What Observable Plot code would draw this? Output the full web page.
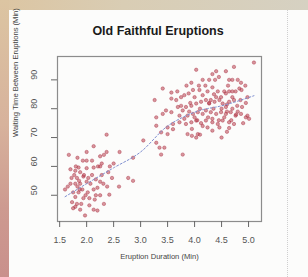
<!DOCTYPE html>
<html>
<head>
<meta charset="utf-8">
<script src="https://cdn.jsdelivr.net/npm/d3@7"></script>
<script src="https://cdn.jsdelivr.net/npm/@observablehq/plot@0.6"></script>
<style>
  html, body { margin: 0; padding: 0; }
  body { width: 308px; height: 277px; overflow: hidden; font-family: "Liberation Sans", Arial, sans-serif; }
  #wrap { position: relative; width: 308px; height: 277px; background: #fcfcfb; overflow: hidden; }
  #topband { position: absolute; left: 0; top: 0; width: 308px; height: 10px;
    background: linear-gradient(to right, #dcc5a2, #d9cdb4 40%, #d6d1c2); }
  #leftband { position: absolute; left: 0; top: 0; width: 9px; height: 277px;
    background: linear-gradient(to bottom, #dcc5a2, #d7b29c 45%, #cd9a90 75%, #c9908c); }
  #dots { position: absolute; left: 287px; top: 10px; width: 0; height: 267px; border-left: 1px dotted #cfcfcf; }
  #title { position: absolute; left: 0; top: 24px; width: 316px; text-align: center;
    font-weight: bold; font-size: 12.5px; color: #1a1a1a; z-index: 2; }
  #chart { position: absolute; left: 0; top: 0; z-index: 1; }
</style>
</head>
<body>
<div id="wrap">
  <div id="topband"></div>
  <div id="leftband"></div>
  <div id="dots"></div>
  <div id="chart"></div>
  <div id="title">Old Faithful Eruptions</div>
</div>
<script>
// Eruption duration (min)
const duration = [
  1.67,1.83,2.0,1.85,1.70,1.88,1.79,2.13,2.0,2.37,2.37,2.25,2.32,2.21,2.25,2.13,2.0,2.61,2.43,2.86,
  3.05,2.77,2.86,2.6,2.42,2.32,1.6,2.17,2.25,1.94,2.05,1.7,1.79,1.88,1.75,1.79,1.73,1.79,1.88,1.97,
  2.13,2.2,1.85,1.92,2.0,2.03,2.13,2.2,2.25,2.31,2.07,1.94,1.82,1.77,1.9,1.82,1.75,1.83,1.87,1.95,
  2.1,2.28,2.4,2.02,2.15,1.65,1.72,2.47,2.1,1.93,2.28,2.38,1.98,1.8,2.05,2.5,1.86,2.17,
  5.1,4.03,4.4,4.58,4.73,3.41,3.26,3.94,4.08,4.27,4.33,4.38,4.64,4.7,4.86,4.94,4.83,3.57,3.57,3.66,
  3.75,3.81,3.89,3.97,4.09,4.15,4.24,4.33,4.43,4.49,4.58,4.64,4.7,4.76,4.87,4.98,3.69,3.78,3.84,3.94,
  4.03,4.12,4.21,4.27,4.37,4.46,4.52,4.58,4.64,4.73,4.79,4.88,3.47,3.57,3.41,3.29,3.72,3.81,3.87,3.97,
  4.06,4.15,4.21,4.3,4.4,4.49,4.58,4.67,4.76,4.86,3.72,3.84,3.94,4.03,4.12,4.21,4.33,4.43,4.52,4.64,
  4.73,4.95,5.01,4.98,4.24,4.33,4.46,4.64,3.87,3.95,4.03,4.06,3.6,3.5,3.38,3.29,3.29,3.35,3.44,3.38,
  3.78,3.5,3.6,
  4.1,4.35,4.5,4.6,4.25,4.45,4.55,4.7,4.8,3.9,4.0,4.15,4.3,4.4,4.55,4.62,4.2,4.0,3.92,3.75,
  4.68,4.9,4.6,4.5,4.77,4.85,4.95,4.1,3.95,4.27,4.36,4.7,4.8,4.15,3.85,3.68,4.45,4.05,4.33,4.6
];
// Waiting time between eruptions (min)
const waiting = [
  64,63,62,59.6,59,58,58.5,67,65,71,65,63.5,64,60,60,59.6,59.4,65,60,63,
  69,56,55,53,50.2,47,52,50,50,49,49,54,54,54,51,49.4,47.6,46,45,43,
  45,44.7,51,52,54.7,56,52,52.6,54.7,54,54,56.5,56,57,47,47,45.5,53,52,57,
  57,57,58,51,48.5,53,56,56,62,62,61,53,50,60,46.5,61,55,55.5,
  96,93.5,93,93,94.5,87,83,89,88,90,92,90,90,90,89,88,87,85.6,83.5,83,
  84,84.7,85.3,86.5,86.5,84.7,86,87.4,86,84,85.3,86,84,86,86.5,84,80.6,79.4,80.6,81,
  81.8,82.4,83,81.8,82.4,83,81.8,80.6,82.4,83,81,80.6,79.4,78.8,78.2,77,77.6,76.5,77.6,78.2,
  78.8,78.2,79.4,78.8,78.2,78.8,78.2,78.8,77.6,78.2,75.3,74.7,75.3,75.9,75,75.9,75.3,74.7,75.9,75.3,
  74.7,77,76.5,77.6,73.5,72.4,73.5,73.3,71.2,70.6,70,71.2,72.9,71.2,71.8,74.1,68.2,66.5,66.5,64.1,
  64.1,73.5,74.7,
  80,80,80,79,77,76,77,80,79,79,77,74,83,84,86,88,88,84,82,81,
  76,75,72,70,78,83,82,71,73,82,85,86,90,90,88,86,91,76,76.5,81.5
];
// Lowess smoother (dotted line)
const lowessX = [1.6, 2.0, 2.5, 3.0, 3.5, 3.8, 4.1, 4.5, 5.1];
const lowessY = [49.5, 54, 59.5, 65, 74, 77.2, 79.4, 81, 84.5];
// Tick labels
const xTicks = [1.5, 2.0, 2.5, 3.0, 3.5, 4.0, 4.5, 5.0];
const yTicks = [50, 60, 70, 80, 90];

const points = duration.map((d, i) => ({eruptions: d, waiting: waiting[i]}));
const lowess = lowessX.map((x, i) => ({x, y: lowessY[i]}));

const chart = Plot.plot({
  width: 308,
  height: 277,
  marginTop: 56,
  marginBottom: 56,
  marginLeft: 57,
  marginRight: 47,
  style: {fontFamily: "Liberation Sans, Arial, sans-serif", fontSize: "9px", color: "#555", background: "transparent"},
  x: {domain: [1.46, 5.24]},
  y: {domain: [40.9, 98.1]},
  marks: [
    Plot.frame({stroke: "#8c8c8c", strokeWidth: 1.2}),
    Plot.axisX({ticks: xTicks, tickFormat: d3.format(".1f"), tickSize: 6, tickPadding: 9, stroke: "#666", label: null}),
    Plot.axisY({ticks: yTicks, tickSize: 6, tickFormat: () => "", label: null, stroke: "#666"}),
    Plot.text(yTicks, {y: d => d, text: d => String(d), frameAnchor: "left", dx: -23, rotate: -90, fill: "#555", fontSize: 9}),
    Plot.text(["Waiting Time Between Eruptions (Min)"], {frameAnchor: "left", dx: -42, dy: -2, rotate: -90, fill: "#444", fontSize: 7.6}),
    Plot.text(["Eruption Duration (Min)"], {frameAnchor: "bottom", dy: 37, fill: "#444", fontSize: 7.6}),
    Plot.dot(points, {x: "eruptions", y: "waiting", r: 1.7, fill: "#b8404f", fillOpacity: 0.55, stroke: "#a82c3e", strokeOpacity: 0.6, strokeWidth: 0.7}),
    Plot.line(lowess, {x: "x", y: "y", curve: "monotone-x", stroke: "#7f8fd0", strokeWidth: 1, strokeDasharray: "2,2"})
  ]
});
document.getElementById("chart").appendChild(chart);
</script>
</body>
</html>
